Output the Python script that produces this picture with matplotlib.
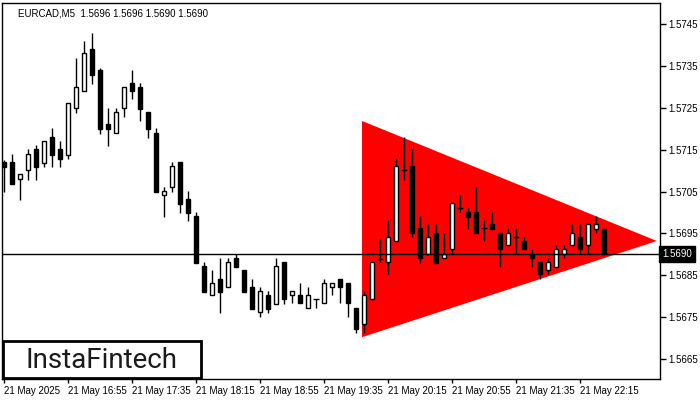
import matplotlib
matplotlib.use("Agg")
import matplotlib.pyplot as plt
import matplotlib.patches as patches
import numpy as np

# EURCAD M5 candles (one entry per 5-minute bar)
opens = [1.57121, 1.57121, 1.57080, 1.57102, 1.57152, 1.57118, 1.57181, 1.57152,
         1.57138, 1.57250, 1.57291, 1.57391, 1.57341, 1.57212, 1.57190, 1.57250,
         1.57310, 1.57300, 1.57240, 1.57190, 1.57042, 1.57061, 1.57121, 1.57032,
         1.56992, 1.56872, 1.56803, 1.56841, 1.56822, 1.56891, 1.56862, 1.56822,
         1.56762, 1.56803, 1.56781, 1.56882, 1.56803, 1.56803, 1.56772, 1.56793,
         1.56783, 1.56822, 1.56841, 1.56831, 1.56772, 1.56733, 1.56793, 1.56889,
         1.56882, 1.56932, 1.57102, 1.57111, 1.56963, 1.56900, 1.56951, 1.56891,
         1.56913, 1.57011, 1.57001, 1.57001, 1.56963, 1.56972, 1.56951, 1.56922,
         1.56941, 1.56932, 1.56900, 1.56882, 1.56862, 1.56870, 1.56900, 1.56922,
         1.56941, 1.56922, 1.56961, 1.56960]
highs = [1.57125, 1.57140, 1.57092, 1.57152, 1.57161, 1.57171, 1.57202, 1.57171,
         1.57262, 1.57370, 1.57410, 1.57429, 1.57345, 1.57250, 1.57250, 1.57300,
         1.57341, 1.57310, 1.57240, 1.57202, 1.57061, 1.57121, 1.57121, 1.57051,
         1.57001, 1.56882, 1.56862, 1.56891, 1.56891, 1.56901, 1.56862, 1.56841,
         1.56822, 1.56812, 1.56891, 1.56882, 1.56812, 1.56831, 1.56822, 1.56793,
         1.56841, 1.56831, 1.56841, 1.56831, 1.56772, 1.56812, 1.56882, 1.56937,
         1.56982, 1.57130, 1.57181, 1.57152, 1.56992, 1.56972, 1.56972, 1.56951,
         1.57023, 1.57042, 1.57011, 1.57061, 1.56982, 1.57001, 1.56951, 1.56963,
         1.56963, 1.56941, 1.56913, 1.56882, 1.56891, 1.56922, 1.56922, 1.56972,
         1.56972, 1.56972, 1.56992, 1.56960]
lows = [1.57049, 1.57068, 1.57030, 1.57078, 1.57078, 1.57109, 1.57109, 1.57109,
        1.57128, 1.57238, 1.57291, 1.57307, 1.57188, 1.57159, 1.57190, 1.57228,
        1.57272, 1.57219, 1.57178, 1.57049, 1.56989, 1.57049, 1.56999, 1.56980,
        1.56879, 1.56810, 1.56803, 1.56760, 1.56822, 1.56870, 1.56810, 1.56769,
        1.56750, 1.56760, 1.56781, 1.56781, 1.56783, 1.56783, 1.56772, 1.56772,
        1.56783, 1.56803, 1.56783, 1.56750, 1.56712, 1.56712, 1.56793, 1.56882,
        1.56853, 1.56932, 1.57078, 1.56941, 1.56879, 1.56900, 1.56879, 1.56891,
        1.56900, 1.57001, 1.56961, 1.56951, 1.56932, 1.56961, 1.56870, 1.56922,
        1.56900, 1.56913, 1.56870, 1.56841, 1.56853, 1.56870, 1.56891, 1.56922,
        1.56900, 1.56900, 1.56951, 1.56900]
closes = [1.57109, 1.57068, 1.57092, 1.57140, 1.57109, 1.57171, 1.57138, 1.57128,
          1.57262, 1.57300, 1.57382, 1.57329, 1.57200, 1.57200, 1.57240, 1.57300,
          1.57291, 1.57248, 1.57200, 1.57049, 1.57051, 1.57111, 1.57020, 1.56999,
          1.56879, 1.56810, 1.56831, 1.56810, 1.56882, 1.56870, 1.56810, 1.56769,
          1.56812, 1.56769, 1.56872, 1.56793, 1.56812, 1.56783, 1.56803, 1.56792,
          1.56831, 1.56831, 1.56822, 1.56783, 1.56721, 1.56803, 1.56882, 1.56891,
          1.56941, 1.57111, 1.57099, 1.56951, 1.56891, 1.56941, 1.56879, 1.56900,
          1.57023, 1.57008, 1.56989, 1.56951, 1.56962, 1.56961, 1.56913, 1.56951,
          1.56940, 1.56913, 1.56891, 1.56853, 1.56882, 1.56913, 1.56913, 1.56951,
          1.56913, 1.56972, 1.56972, 1.56900]

# x axis labels every 8 bars
tick_idx = [0, 8, 16, 24, 32, 40, 48, 56, 64, 72]
tick_labels = ["21 May 2025", "21 May 16:55", "21 May 17:35", "21 May 18:15",
               "21 May 18:55", "21 May 19:35", "21 May 20:15", "21 May 20:55",
               "21 May 21:35", "21 May 22:15"]
price_ticks = [1.5665, 1.5675, 1.5685, 1.5695, 1.5705, 1.5715, 1.5725, 1.5735, 1.5745]
last_price = 1.5690

# bearish symmetrical triangle (bar index, price)
tri_x = [44.75, 44.75, 81.6]
tri_y = [1.57219, 1.56702, 1.56932]

title = "EURCAD,M5  1.5696 1.5696 1.5690 1.5690"
small_font = 'Liberation Sans'

fig = plt.figure(figsize=(7, 4), dpi=100)
ax = fig.add_axes([2 / 700, 21 / 400, 658 / 700, 376 / 400])

# --- triangle pattern ---
tri = patches.Polygon(list(zip(tri_x, tri_y)), closed=True, facecolor='#ff0000',
                      edgecolor='none', zorder=1)
ax.add_patch(tri)

# --- candles ---
x = np.arange(len(opens))
o = np.array(opens)
c = np.array(closes)
ax.vlines(x, lows, highs, color='black', linewidth=1.0, zorder=3)

body_w = 0.55
up = c > o
down = c < o
flat = np.isclose(c, o, atol=0.00003)
bottoms = np.minimum(o, c)
heights = np.abs(c - o)
ax.bar(x[up & ~flat], heights[up & ~flat], bottom=bottoms[up & ~flat], width=body_w,
       facecolor='white', edgecolor='black', linewidth=1.0, zorder=4)
ax.bar(x[down & ~flat], heights[down & ~flat], bottom=bottoms[down & ~flat], width=body_w,
       facecolor='black', edgecolor='black', linewidth=1.0, zorder=4)
ax.hlines(o[flat], x[flat] - 0.4, x[flat] + 0.4, color='black', linewidth=1.0, zorder=4)

# current price line
ax.axhline(last_price, color='black', linewidth=1.0, zorder=5)

ax.set_xlim(-0.25, 82)
ax.set_ylim(1.56602, 1.57501)

# --- axes styling (MetaTrader look) ---
for s in ax.spines.values():
    s.set_linewidth(1.0)
    s.set_color('black')

ax.yaxis.tick_right()
ax.set_yticks(price_ticks)
ax.set_yticklabels([f"{p:.4f}" for p in price_ticks], family=small_font, fontsize=7)
ax.tick_params(axis='y', direction='out', length=4, width=1, pad=2)

ax.set_xticks(tick_idx)
ax.set_xticklabels(tick_labels, ha='left', family=small_font, fontsize=7)
ax.tick_params(axis='x', direction='out', length=3, width=1, pad=2)

# last price marker on the right axis
ax.text(1.003, last_price, "1.5690", transform=ax.get_yaxis_transform(),
        ha='left', va='center', fontsize=7, family=small_font, color='white',
        bbox=dict(boxstyle='square,pad=0.3', facecolor='black', edgecolor='black'),
        zorder=10, clip_on=False)

ax.text(0.024, 0.985, title, transform=ax.transAxes, ha='left', va='top',
        fontsize=7, family=small_font, color='black')

# --- logo box ---
logo = patches.Rectangle((3 / 700, 22 / 400), 198 / 700, 37 / 400, transform=fig.transFigure,
                         facecolor='white', edgecolor='black', linewidth=2, zorder=20)
fig.patches.append(logo)
fig.text(101 / 700, 40 / 400, "InstaFintech", ha='center', va='center',
         fontsize=20, family='Roboto', fontweight='normal', color='#1a1a1a', zorder=21)

fig.savefig('out.png', dpi=100)
